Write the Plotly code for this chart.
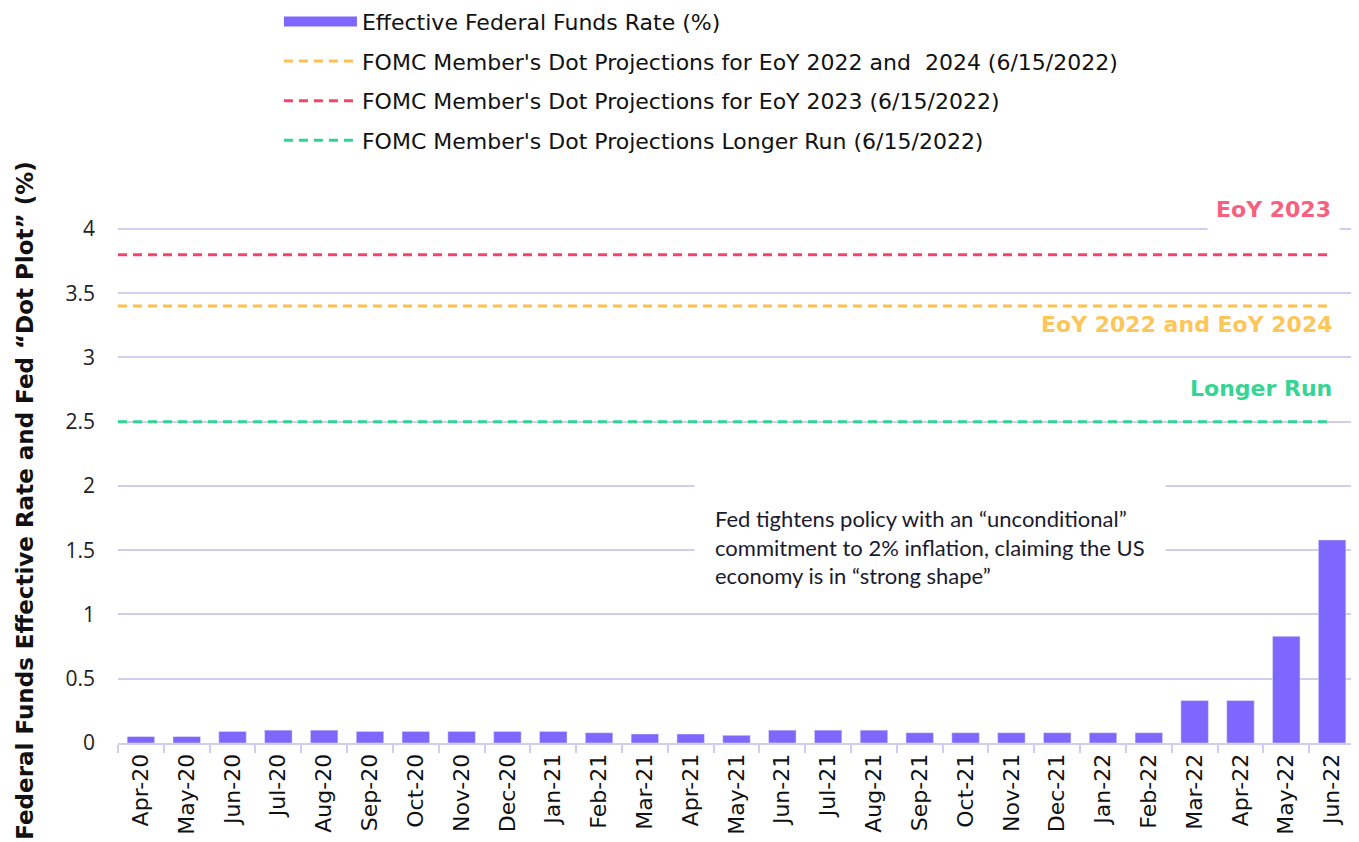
import plotly.graph_objects as go

months = ["Apr-20", "May-20", "Jun-20", "Jul-20", "Aug-20", "Sep-20", "Oct-20", "Nov-20", "Dec-20",
          "Jan-21", "Feb-21", "Mar-21", "Apr-21", "May-21", "Jun-21", "Jul-21", "Aug-21", "Sep-21",
          "Oct-21", "Nov-21", "Dec-21", "Jan-22", "Feb-22", "Mar-22", "Apr-22", "May-22", "Jun-22"]
effr = [0.05, 0.05, 0.09, 0.10, 0.10, 0.09, 0.09, 0.09, 0.09,
        0.09, 0.08, 0.07, 0.07, 0.06, 0.10, 0.10, 0.10, 0.08,
        0.08, 0.08, 0.08, 0.08, 0.08, 0.33, 0.33, 0.83, 1.58]

dot_eoy_2022_2024 = 3.4
dot_eoy_2023 = 3.8
dot_longer_run = 2.5

y_ticks = [0, 0.5, 1, 1.5, 2, 2.5, 3, 3.5, 4]
y_ticktext = ["0", "0.5", "1", "1.5", "2", "2.5", "3", "3.5", "4"]

WIDE = "DejaVu Sans"
BAR = "#7f66fc"
RED = "#f5436e"
YEL = "#fdbf4e"
GRN = "#30d491"
GRID = "#cfcdf0"

fig = go.Figure()
fig.add_bar(x=months, y=effr, name="Effective Federal Funds Rate (%)", marker_color=BAR,
            legendgroup="a", showlegend=False)
# legend swatch for the bars (wide rectangle)
fig.add_scatter(x=[None], y=[None], mode="lines", name="Effective Federal Funds Rate (%)",
                legendgroup="a", line=dict(color=BAR, width=20), xaxis="x2")

line_x = [-0.5, len(months) - 1]
for val, col, nm, g in [
    (dot_eoy_2022_2024, YEL, "FOMC Member's Dot Projections for EoY 2022 and  2024 (6/15/2022)", "b"),
    (dot_eoy_2023, RED, "FOMC Member's Dot Projections for EoY 2023 (6/15/2022)", "c"),
    (dot_longer_run, GRN, "FOMC Member's Dot Projections Longer Run (6/15/2022)", "d"),
]:
    fig.add_scatter(x=line_x, y=[val, val], mode="lines", xaxis="x2", name=nm, legendgroup=g,
                    line=dict(color=col, width=3, dash="9px,6px"))

fig.update_layout(
    width=1351, height=834,
    margin=dict(l=110, r=4, t=176, b=99, autoexpand=False),
    paper_bgcolor="white", plot_bgcolor="white",
    font=dict(family=WIDE, color="#1a1a1a", size=20),
    bargap=0.4,
    showlegend=True,
    legend=dict(x=0.1301, y=1.328, xref="paper", yref="paper", xanchor="left", yanchor="top",
                font=dict(family=WIDE, size=22, color="#111"),
                itemwidth=73, tracegroupgap=8, traceorder="grouped", bgcolor="rgba(0,0,0,0)"),
    xaxis=dict(type="category", tickangle=-90, tickson="boundaries", ticks="outside", ticklen=8,
               tickcolor=GRID, tickwidth=2, showline=True, linecolor=GRID, linewidth=2,
               showgrid=False, tickfont=dict(family=WIDE, size=22, color="#111"),
               range=[-0.5, len(months) - 0.5]),
    xaxis2=dict(overlaying="x", range=[-0.5, len(months) - 0.5], visible=False),
    yaxis=dict(range=[0, 4.35], tickvals=y_ticks, ticktext=y_ticktext, showgrid=True,
               gridcolor=GRID, gridwidth=2, zeroline=False, ticks="", ticklabelstandoff=22,
               tickfont=dict(family="Open Sans", size=21, color="#222")),
)

annos = [
    dict(text="<b>EoY 2023</b>", xref="x2", x=len(months) - 1, y=dot_eoy_2023, yshift=45, xshift=8,
         xanchor="right", yanchor="middle", showarrow=False,
         font=dict(family=WIDE, size=22, color="#f7607e"), bgcolor="white", borderpad=8),
    dict(text="<b>EoY 2022 and EoY 2024</b>", xref="x2", x=len(months) - 1, y=dot_eoy_2022_2024,
         yshift=-18, xshift=3,
         xanchor="right", yanchor="middle", showarrow=False, font=dict(family=WIDE, size=22, color="#fdc65a")),
    dict(text="<b>Longer Run</b>", xref="x2", x=len(months) - 1, y=dot_longer_run, yshift=33, xshift=2,
         xanchor="right", yanchor="middle", showarrow=False, font=dict(family=WIDE, size=22, color="#35d593")),
    dict(text="Fed tightens policy with an “unconditional”<br>commitment to 2% inflation, claiming the US<br>economy is in “strong shape”",
         xref="paper", yref="paper", x=0.4656, y=0.35, xanchor="left", yanchor="middle", align="left",
         showarrow=False, font=dict(family="Lato", size=22, color="#1a1a2e"), bgcolor="white", borderpad=20),
    dict(text="<b>Federal Funds Effective Rate and Fed “Dot Plot” (%)</b>", xref="paper", yref="paper",
         x=-0.0752, y=0.435, textangle=-90, showarrow=False, xanchor="center", yanchor="middle",
         font=dict(family=WIDE, size=23, color="#111")),
]
fig.update_layout(annotations=annos)

fig.write_html("out.html")
